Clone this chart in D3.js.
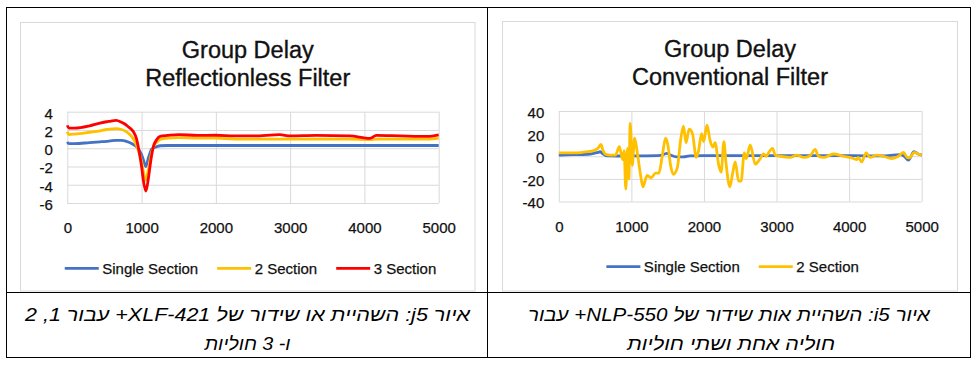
<!DOCTYPE html>
<html>
<head>
<meta charset="utf-8">
<script src="https://cdn.jsdelivr.net/npm/d3@7"></script>
<style>
  body { margin: 0; background: #fff; }
  svg { display: block; font-family: "Liberation Sans", Arial, sans-serif; }
</style>
</head>
<body>
<svg id="chart" width="980" height="371"></svg>
<script>
// ---- data ----
const xTicks = [0, 1000, 2000, 3000, 4000, 5000];

// left chart: Group Delay, Reflectionless Filter
const reflYTicks = [-6, -4, -2, 0, 2, 4];
const reflX = [0, 20, 100, 300, 440, 530, 575, 655, 730, 775, 820, 865, 890, 933, 970, 1000, 1025, 1058, 1090, 1115, 1135, 1160, 1200, 1250, 1350, 1500, 1750, 2000, 2250, 2500, 2860, 3000, 3350, 3800, 4075, 4160, 4480, 4880, 5000];
const reflSingle = [0.7, 0.5, 0.5, 0.62, 0.7, 0.76, 0.8, 0.87, 0.85, 0.8, 0.68, 0.52, 0.4, 0.15, -0.25, -0.7, -1.3, -2.0, -1.1, -0.5, -0.1, 0.05, 0.15, 0.27, 0.3, 0.3, 0.3, 0.3, 0.3, 0.3, 0.3, 0.3, 0.3, 0.3, 0.3, 0.3, 0.3, 0.3, 0.3];
const reflTwo = [1.8, 1.5, 1.55, 1.75, 1.9, 2.05, 2.1, 2.15, 2.05, 1.9, 1.65, 1.3, 1.0, 0.3, -0.6, -1.5, -2.6, -3.5, -2.4, -1.3, -0.5, 0.2, 0.6, 0.95, 1.1, 1.15, 1.1, 1.1, 1.0, 1.0, 1.0, 1.0, 1.0, 1.0, 0.95, 1.0, 1.0, 1.0, 1.1];
const reflThree = [2.5, 2.2, 2.2, 2.45, 2.75, 2.9, 2.95, 3.05, 2.85, 2.65, 2.35, 2.05, 1.8, 1.0, -0.5, -2.0, -3.6, -4.7, -3.4, -1.9, -0.8, 0.2, 0.9, 1.3, 1.4, 1.5, 1.4, 1.42, 1.35, 1.35, 1.48, 1.35, 1.4, 1.35, 1.07, 1.4, 1.35, 1.3, 1.45];

// right chart: Group Delay, Conventional Filter
const convYTicks = [-40, -20, 0, 20, 40];
const convSingleX = [0, 100, 300, 400, 480, 540, 570, 600, 640, 700, 800, 1000, 1200, 1400, 1460, 1490, 1540, 1620, 1720, 1800, 2000, 2500, 3000, 3500, 4000, 4500, 4700, 4760, 4817, 4894, 4950, 5000];
const convSingle = [1, 1.2, 1.5, 1.7, 2.5, 3.5, 4, 2.5, 0.8, 0.3, 0.2, 0.3, 0.4, 0.8, 2.0, 2.5, 1.0, -0.6, -0.6, 0.3, 0.5, 0.5, 0.6, 0.5, 0.5, 0.3, 1.5, 0, -3.5, 4, 2, 1];
const convTwoX = [0, 100, 200, 300, 400, 480, 540, 580, 610, 640, 700, 780, 835, 862, 882, 900, 923, 946, 965, 984, 1012, 1044, 1077, 1123, 1160, 1216, 1272, 1333, 1378, 1425, 1471, 1503, 1540, 1578, 1633, 1680, 1717, 1754, 1795, 1842, 1893, 1926, 1967, 1995, 2042, 2084, 2125, 2153, 2204, 2237, 2274, 2302, 2357, 2398, 2431, 2477, 2512, 2555, 2583, 2638, 2706, 2766, 2821, 2858, 2890, 2945, 2982, 3050, 3188, 3280, 3372, 3463, 3532, 3578, 3647, 3784, 3922, 4060, 4106, 4124, 4174, 4234, 4289, 4381, 4472, 4587, 4679, 4748, 4800, 4835, 4894, 4954, 5000];
const convTwo = [3, 3, 3, 3.2, 4, 5, 7, 10.5, 5, 2, 1, 1, 8.5, 1, -3, 5, -29, 7, -20, 29, -8, 16, 5, -15, -27, -17, -19, -15, -15, 0, 16, 10, -8, -16, -10, 15, 26.5, 12, 24, 20, -1, 5, 20, 13, 27.5, 14, 8, 12, -8, -14, 13, -5, -27, -14, -5, -22, -22, 3, -2, 10, -7, -3, 2, 0, 3, 7, 1, 0, -1, 1, -1, 0.5, 6, 0, -1, 2, 0, -2, -3, -1, -5, 3, -1, 1, 0, -2, 0, 3.5, -1, -1.5, 3.5, 2, 1];

const seriesNames = ["Single Section", "2 Section", "3 Section"];
const seriesColors = ["#4472C4", "#FFC000", "#FF0000"];

const captionLeft = ["איור j5: השהיית או שידור של XLF-421+ עבור 1,  2", "ו- 3 חוליות"];
const captionRight = ["איור i5: השהיית אות שידור של NLP-550+ עבור", "חוליה אחת ושתי חוליות"];

const svg = d3.select("#chart");
const ink = "#111";

// table frame
const frame = svg.append("g").attr("stroke", "#000").attr("stroke-width", 1);
frame.append("rect").attr("x", 6.5).attr("y", 7.5).attr("width", 964).attr("height", 350).attr("fill", "none");
frame.append("line").attr("x1", 487.5).attr("x2", 487.5).attr("y1", 7.5).attr("y2", 357.5);
frame.append("line").attr("x1", 6.5).attr("x2", 970.5).attr("y1", 292.5).attr("y2", 292.5);

function drawChart(o) {
  const g = svg.append("g");
  // chart area border
  g.append("rect").attr("x", o.box[0]).attr("y", o.box[1]).attr("width", o.box[2]).attr("height", o.box[3])
    .attr("fill", "#fff").attr("stroke", "#d9d9d9");

  const cx = o.box[0] + o.box[2] / 2;
  o.title.forEach((t, i) => {
    g.append("text").attr("x", cx).attr("y", o.titleY[i]).attr("text-anchor", "middle")
      .attr("font-size", 23.5).attr("fill", ink).attr("stroke", ink).attr("stroke-width", 0.35).text(t);
  });

  const x = d3.scaleLinear().domain([0, 5000]).range([o.plot[0], o.plot[1]]);
  const y = d3.scaleLinear().domain(d3.extent(o.yTicks)).range([o.plot[3], o.plot[2]]);
  const w = o.plot[1] - o.plot[0], h = o.plot[3] - o.plot[2];

  const ya = g.append("g").attr("transform", `translate(${o.plot[0]},0)`)
    .call(d3.axisLeft(y).tickValues(o.yTicks).tickFormat(d => String(d)).tickSize(-w).tickPadding(14.5));
  const xa = g.append("g").attr("transform", `translate(0,${o.plot[3]})`)
    .call(d3.axisBottom(x).tickValues(xTicks).tickFormat(d => String(d)).tickSize(-h).tickPadding(19.5));
  [ya, xa].forEach(a => {
    a.select(".domain").remove();
    a.selectAll(".tick line").attr("stroke", "#d9d9d9");
    a.selectAll(".tick text").attr("font-size", 15).attr("fill", ink)
      .attr("stroke", ink).attr("stroke-width", 0.25)
      .attr("font-family", "Liberation Sans, Arial, sans-serif");
  });
  ya.selectAll(".tick text").attr("dy", "0.43em");

  const line = d3.line().x(d => x(d[0])).y(d => y(d[1])).curve(d3.curveMonotoneX);
  o.series.forEach((s, i) => {
    const pts = s.xs.map((v, k) => [v, s.ys[k]]);
    g.append("path").datum(pts).attr("d", line).attr("fill", "none")
      .attr("stroke", seriesColors[i]).attr("stroke-width", 2.8).attr("stroke-linejoin", "round");
  });

  // legend
  const lg = g.append("g");
  let cur = 0;
  o.series.forEach((s, i) => {
    const it = lg.append("g");
    it.append("line").attr("x1", 0).attr("x2", 34).attr("y1", 0).attr("y2", 0)
      .attr("stroke", seriesColors[i]).attr("stroke-width", 2.8);
    const t = it.append("text").attr("x", 37.5).attr("y", 5.5).attr("font-size", 15)
      .attr("fill", ink).attr("stroke", ink).attr("stroke-width", 0.25).text(seriesNames[i]);
    const wdt = 37.5 + t.node().getComputedTextLength();
    it.attr("transform", `translate(${cur},0)`);
    cur += wdt + 19;
  });
  const total = cur - 19;
  lg.attr("transform", `translate(${o.legendCx - total / 2},${o.legendY})`);
}

drawChart({
  box: [20.5, 22.5, 454.5, 268.5],
  title: ["Group Delay", "Reflectionless Filter"],
  titleY: [58, 85.5],
  plot: [67.3, 438.7, 111.7, 203],
  yTicks: reflYTicks,
  series: [
    { xs: reflX, ys: reflSingle },
    { xs: reflX, ys: reflTwo },
    { xs: reflX, ys: reflThree }
  ],
  legendCx: 250.5, legendY: 268.3
});

drawChart({
  box: [502.5, 21.5, 455, 269.5],
  title: ["Group Delay", "Conventional Filter"],
  titleY: [57.3, 85],
  plot: [558.8, 921.7, 111, 201.5],
  yTicks: convYTicks,
  series: [
    { xs: convSingleX, ys: convSingle },
    { xs: convTwoX, ys: convTwo }
  ],
  legendCx: 732.6, legendY: 266.7
});

// captions (right-to-left Hebrew)
function caption(text, cx, y, width) {
  const t = svg.append("text").attr("x", cx).attr("y", y)
    .attr("text-anchor", "middle").attr("font-size", 19).attr("font-style", "italic")
    .attr("fill", "#000").style("direction", "rtl").style("unicode-bidi", "embed").text(text);
  if (width) t.attr("textLength", width).attr("lengthAdjust", "spacingAndGlyphs");
}
caption(captionLeft[0], 247.5, 320.5, 445);
caption(captionLeft[1], 247.5, 349.5, 86);
caption(captionRight[0], 729, 320.5, 402);
caption(captionRight[1], 731, 349.5, 208);
</script>
</body>
</html>
